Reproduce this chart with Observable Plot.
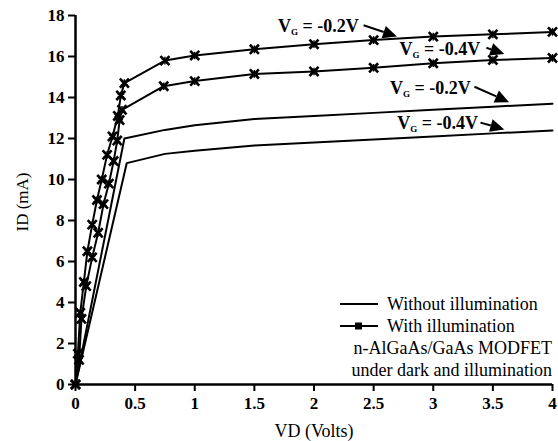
<!DOCTYPE html>
<html>
<head>
<meta charset="utf-8">
<script src="https://cdn.jsdelivr.net/npm/d3@7"></script>
<script src="https://cdn.jsdelivr.net/npm/@observablehq/plot@0.6"></script>
<style>
  body { margin: 0; background: #fff; }
  #chart { width: 558px; height: 441px; }
  #chart svg text { font-family: "Liberation Serif", "Times New Roman", Tinos, "DejaVu Serif", serif; }
</style>
</head>
<body>
<div id="chart"></div>
<script>
// ---- data ----
const illum02VD = [0, 0.02, 0.04, 0.07, 0.1, 0.14, 0.18, 0.22, 0.265, 0.31, 0.355, 0.38, 0.41, 0.75, 1.0, 1.5, 2.0, 2.5, 3.0, 3.5, 4.0];
const illum02ID = [0, 1.5, 3.5, 5.0, 6.5, 7.8, 9.0, 10.0, 11.2, 12.1, 13.1, 14.1, 14.7, 15.8, 16.05, 16.35, 16.6, 16.8, 16.97, 17.08, 17.2];
const illum04VD = [0, 0.03, 0.05, 0.09, 0.14, 0.19, 0.235, 0.28, 0.32, 0.35, 0.37, 0.39, 0.74, 1.0, 1.5, 2.0, 2.5, 3.0, 3.5, 4.0];
const illum04ID = [0, 1.2, 3.2, 4.8, 6.2, 7.4, 8.8, 9.8, 10.9, 11.9, 12.9, 13.4, 14.55, 14.8, 15.15, 15.27, 15.45, 15.67, 15.83, 15.93];
const dark02VD = [0, 0.41, 0.75, 1.0, 1.5, 2.0, 2.5, 3.0, 3.5, 4.0];
const dark02ID = [0, 12.0, 12.42, 12.65, 12.95, 13.1, 13.25, 13.4, 13.55, 13.7];
const dark04VD = [0, 0.43, 0.75, 1.0, 1.5, 2.0, 2.5, 3.0, 3.5, 4.0];
const dark04ID = [0, 10.8, 11.25, 11.4, 11.66, 11.8, 11.95, 12.1, 12.25, 12.39];

const xTicks = [0, 0.5, 1, 1.5, 2, 2.5, 3, 3.5, 4];
const xTickLabels = ["0", "0.5", "1", "1.5", "2", "2.5", "3", "3.5", "4"];
const yTicks = [0, 2, 4, 6, 8, 10, 12, 14, 16, 18];
const yTickLabels = ["0", "2", "4", "6", "8", "10", "12", "14", "16", "18"];

const xLabel = "VD (Volts)";
const yLabel = "ID (mA)";
const legendLabels = ["Without illumination", "With illumination"];
const noteLines = ["n-AlGaAs/GaAs MODFET", "under dark and illumination"];

// annotations: label value, text centre (VD, ID), arrow from/to (VD, ID)
const annoVG = ["-0.2V", "-0.4V", "-0.2V", "-0.4V"];
const annoTextX = [2.04, 3.06, 2.98, 3.04];
const annoTextY = [17.5, 16.34, 14.44, 12.73];
const annoFromX = [2.42, 3.45, 3.35, 3.40];
const annoFromY = [17.5, 16.4, 14.5, 12.75];
const annoToX = [2.70, 3.60, 3.64, 3.60];
const annoToY = [16.95, 16.1, 13.75, 12.42];

// ---- build rows ----
const rows = (vd, id, s) => vd.map((v, i) => ({vd: v, id: id[i], s}));
const illum = [...rows(illum02VD, illum02ID, "i02"), ...rows(illum04VD, illum04ID, "i04")];
const dark = [...rows(dark02VD, dark02ID, "d02"), ...rows(dark04VD, dark04ID, "d04")];

const font = "Liberation Serif, Times New Roman, Tinos, DejaVu Serif, serif";

const plot = Plot.plot({
  width: 558,
  height: 441,
  marginLeft: 75,
  marginRight: 6,
  marginTop: 15,
  marginBottom: 57,
  style: {fontFamily: font, fontSize: "17px", fontWeight: "bold", color: "#000", background: "#fff"},
  x: {domain: [0, 4], ticks: xTicks, tickFormat: (d) => xTickLabels[xTicks.indexOf(d)], tickSize: 7, tickPadding: 5, label: null},
  y: {domain: [0, 18], ticks: yTicks, tickFormat: (d) => yTickLabels[yTicks.indexOf(d)], tickSize: 7, tickPadding: 4, label: null},
  marks: [
    Plot.ruleX([0], {stroke: "#000", strokeWidth: 2.5}),
    Plot.ruleY([0], {stroke: "#000", strokeWidth: 2.5}),
    Plot.line(dark, {x: "vd", y: "id", z: "s", stroke: "#000", strokeWidth: 2}),
    Plot.line(illum, {x: "vd", y: "id", z: "s", stroke: "#000", strokeWidth: 2}),
    Plot.dot(illum, {x: "vd", y: "id", symbol: "times", r: 4.2, stroke: "#000", strokeWidth: 2.6}),
    Plot.dot(illum, {x: "vd", y: "id", symbol: "asterisk", r: 3.6, stroke: "#000", strokeWidth: 1.4})
  ]
});

document.getElementById("chart").appendChild(plot);

// ---- extra text & annotations ----
const svg = d3.select(plot);
const sx = plot.scale("x"), sy = plot.scale("y");
svg.selectAll("g[aria-label='y-axis tick'] path, g[aria-label='x-axis tick'] path").attr("stroke-width", 2);

// axis labels
svg.append("text").attr("x", 314).attr("y", 437).attr("text-anchor", "middle")
  .attr("font-size", 18).attr("font-weight", "normal").text(xLabel);
svg.append("text").attr("transform", "translate(28,202) rotate(-90)").attr("text-anchor", "middle")
  .attr("font-size", 17).attr("font-weight", "normal").text(yLabel);

// annotations
annoVG.forEach((v, i) => {
  const t = svg.append("text")
    .attr("x", sx.apply(annoTextX[i])).attr("y", sy.apply(annoTextY[i]))
    .attr("dy", "0.35em").attr("text-anchor", "middle")
    .attr("font-weight", "bold").attr("font-size", 18);
  t.append("tspan").text("V");
  t.append("tspan").attr("font-size", 9).attr("dy", 3).text("G");
  t.append("tspan").attr("dy", -3).text(" = " + v);
  const x1 = sx.apply(annoFromX[i]), y1 = sy.apply(annoFromY[i]);
  const x2 = sx.apply(annoToX[i]), y2 = sy.apply(annoToY[i]);
  const ang = Math.atan2(y2 - y1, x2 - x1);
  const L = 14, W = 6.5;
  const bx = x2 - L * Math.cos(ang), by = y2 - L * Math.sin(ang);
  svg.append("line").attr("x1", x1).attr("y1", y1).attr("x2", bx).attr("y2", by)
    .attr("stroke", "#000").attr("stroke-width", 2);
  const px = -Math.sin(ang), py = Math.cos(ang);
  svg.append("polygon")
    .attr("points", `${x2},${y2} ${bx + W * px},${by + W * py} ${bx - W * px},${by - W * py}`)
    .attr("fill", "#000");
});

// legend
const lg = svg.append("g").attr("font-size", 18).attr("font-weight", "normal").attr("text-anchor", "start");
lg.append("line").attr("x1", 340).attr("x2", 378).attr("y1", 304).attr("y2", 304).attr("stroke", "#000").attr("stroke-width", 2);
lg.append("text").attr("x", 387).attr("y", 304).attr("dy", "0.35em").text(legendLabels[0]);
lg.append("line").attr("x1", 340).attr("x2", 378).attr("y1", 326).attr("y2", 326).attr("stroke", "#000").attr("stroke-width", 2);
lg.append("rect").attr("x", 355).attr("y", 322.5).attr("width", 7).attr("height", 7).attr("fill", "#000");
lg.append("text").attr("x", 387).attr("y", 326).attr("dy", "0.35em").text(legendLabels[1]);
lg.append("text").attr("x", 552).attr("y", 348).attr("dy", "0.35em").attr("text-anchor", "end").text(noteLines[0]);
lg.append("text").attr("x", 552).attr("y", 370).attr("dy", "0.35em").attr("text-anchor", "end").text(noteLines[1]);
</script>
</body>
</html>
